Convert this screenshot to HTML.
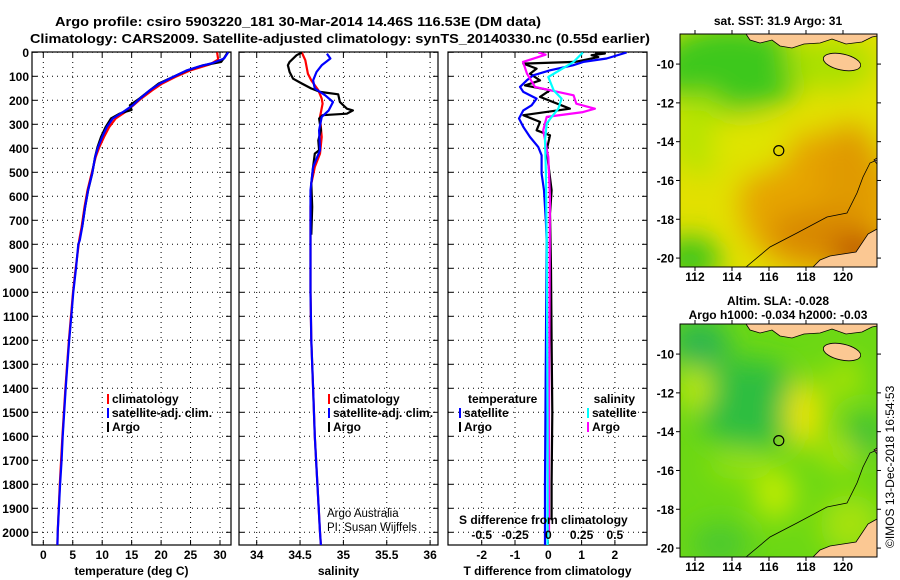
<!DOCTYPE html>
<html><head><meta charset="utf-8"><style>
html,body{margin:0;padding:0;background:#fff;}
svg{display:block;font-family:"Liberation Sans",Arial,sans-serif;}
.t{font-size:12.5px;font-weight:bold;fill:#000;}
.tk{font-size:12px;font-weight:bold;fill:#000;}
</style></head><body>
<svg id="chart" width="900" height="580" viewBox="0 0 900 580" xmlns="http://www.w3.org/2000/svg">
<defs>
<filter id="blur8" x="-50%" y="-50%" width="200%" height="200%"><feGaussianBlur stdDeviation="8"/></filter>
<filter id="blur14" x="-50%" y="-50%" width="200%" height="200%"><feGaussianBlur stdDeviation="14"/></filter>
<clipPath id="mapclip"><rect x="0" y="0" width="197" height="233"/></clipPath>
<clipPath id="c1"><rect x="32" y="52" width="199" height="493"/></clipPath>
<clipPath id="c2"><rect x="239" y="52" width="199" height="493"/></clipPath>
<clipPath id="c3"><rect x="448" y="52" width="199" height="493"/></clipPath>
</defs>
<text class="t" x="298" y="26" text-anchor="middle" textLength="486" lengthAdjust="spacingAndGlyphs">Argo profile: csiro 5903220_181 30-Mar-2014 14.46S 116.53E (DM data)</text>
<text class="t" x="340" y="43" text-anchor="middle" textLength="620" lengthAdjust="spacingAndGlyphs">Climatology: CARS2009. Satellite-adjusted climatology: synTS_20140330.nc (0.55d earlier)</text>
<g id="panels"></g>
<g id="maps"></g>
<text class="tk" transform="translate(894,548) rotate(-90)" style="font-weight:normal;font-size:12px">©IMOS 13-Dec-2018 16:54:53</text>
</svg>
<script>
// ---- depth ticks ----
const depthTicks = [0,100,200,300,400,500,600,700,800,900,1000,1100,1200,1300,1400,1500,1600,1700,1800,1900,2000];
// ---- temperature panel ----
const tempTicks = [0,5,10,15,20,25,30];
const tempDepthBlue = [0,26,44,58,75,103,130,158,193,221,249,276,311,353,395,436,505,575,645,728,783,800,900,1000,1100,1200,1300,1400,1500,1600,1700,1800,1900,2000,2054];
const tempBlue = [31.4,30.7,28.8,26.6,24.4,22.0,19.8,18.1,16.4,15.2,13.5,11.8,10.8,10.0,9.3,8.8,8.3,7.6,7.1,6.6,6.2,5.95,5.55,5.1,4.75,4.4,4.1,3.8,3.55,3.3,3.1,2.85,2.65,2.45,2.4];
const tempDepthRed = [0,30,50,75,103,130,158,193,221,249,276,311,353,395,436,505,575,645,728,783,900,1000,1200,1400,1600,1800,2000,2054];
const tempRed = [29.5,29.7,28.3,25.0,22.4,20.2,18.5,16.6,15.3,13.9,12.3,11.2,10.3,9.5,8.9,8.2,7.5,7.0,6.5,6.1,5.5,5.05,4.35,3.75,3.25,2.8,2.45,2.4];
const tempDepthBlack = [0,20,40,55,75,103,130,158,193,221,240,255,276,311,353,395,436,505,575,645,728];
const tempBlack = [31.3,30.8,30.2,27.0,24.5,22.0,19.6,18.1,16.3,14.7,15.0,13.0,11.5,10.6,9.8,9.2,8.8,8.3,7.6,7.1,6.6];
// ---- salinity panel ----
const salTicks = [34,34.5,35,35.5,36];
const salDepthRed = [1,33,89,117,158,193,214,269,353,422,478,547,644,800,1000,1200,1400,1600,1800,2000,2054];
const salRed = [34.52,34.56,34.59,34.63,34.71,34.75,34.76,34.73,34.75,34.73,34.67,34.63,34.62,34.62,34.62,34.63,34.65,34.67,34.70,34.73,34.74];
const salDepthBlack = [1,12,40,54,82,110,130,151,165,175,207,235,242,256,262,276,325,367,408,422,478,547,644,760];
const salBlack = [34.52,34.46,34.38,34.36,34.38,34.42,34.52,34.63,34.73,34.94,34.96,35.04,35.11,35.04,34.76,34.72,34.74,34.71,34.72,34.67,34.65,34.63,34.64,34.63];
const salDepthBlue = [6,26,54,82,117,151,179,207,242,269,325,408,478,575,769,1000,1200,1400,1600,1800,2000,2054];
const salBlue = [34.81,34.85,34.75,34.69,34.65,34.67,34.79,34.88,34.83,34.75,34.72,34.73,34.65,34.62,34.62,34.62,34.63,34.65,34.67,34.70,34.73,34.74];
// ---- difference panel ----
const tdiffTicks = [-2,-1,0,1,2];
const sdiffTicks = [-0.5,-0.25,0,0.25,0.5];
const tdDepthSat = [1,26,40,54,75,96,117,144,165,193,221,242,276,311,353,395,429,505,575,714,783,1000,1400,1800,2000,2054];
const tdSat = [2.35,1.75,1.05,0.74,0.05,-0.45,-0.65,-0.85,-0.75,-0.35,-0.5,-0.75,-0.88,-0.75,-0.55,-0.3,-0.2,-0.2,-0.13,-0.07,-0.05,-0.06,-0.08,-0.1,-0.1,-0.1];
const tdDepthArgo = [1,5,12,20,40,47,68,89,117,138,158,186,235,262,290,325,346,408,575,672,900,1200,1500,1800,1950];
const tdArgo = [1.4,1.7,1.3,1.5,0.8,-0.75,-0.35,-0.55,-0.25,-0.7,0.05,-0.25,0.65,-0.75,-0.25,-0.35,0.05,-0.05,0.1,0.05,0.08,0.1,0.12,0.1,0.1];
const sdDepthSat = [1,40,103,158,193,235,269,297,367,500,783,1200,1600,2000,2054];
const sdSat = [0.26,0.19,0,0.04,0.1,0.075,0.025,-0.012,-0.025,-0.018,-0.012,-0.008,-0.005,-0.005,-0.005];
const sdDepthArgo = [1,10,40,89,144,158,179,214,235,249,269,325,436,600,1000,1500,2000];
const sdArgo = [-0.075,-0.02,-0.19,-0.16,-0.1,0.012,0.19,0.21,0.35,0.26,-0.012,-0.038,0,0.012,0.01,0.005,0.005];

const NS='http://www.w3.org/2000/svg';
function mk(tag, attrs, parent){const e=document.createElementNS(NS,tag);for(const k in attrs)e.setAttribute(k,attrs[k]);parent.appendChild(e);return e;}
const Y0=52.3, PPD=0.24, BOTTOM=545;
function yD(d){return Y0+d*PPD;}
const panels=document.getElementById('panels');

function xT(v){return 43.3+5.89*v;}
function xS(v){return 256.7+86.7*(v-34);}
function xTD(v){return 548.3+33.3*v;}
function xSD(v){return 548.3+133.2*v;}

function panelFrame(name,left,right,xfun,ticks,labels,xlabel,yLabels){
  const g=mk('g',{},panels);
  
  
  ticks.forEach(v=>{const x=xfun(v);
    const l=mk('line',{x1:x,x2:x,y1:52,y2:BOTTOM,stroke:'#000','stroke-width':1,'stroke-dasharray':'1 4'},g);
    
    
    mk('line',{x1:x,x2:x,y1:BOTTOM,y2:BOTTOM-5,stroke:'#000'},g);
    mk('line',{x1:x,x2:x,y1:52,y2:57,stroke:'#000'},g);
    const t=mk('text',{x:x,y:559,'text-anchor':'middle',class:'tk'},g);t.textContent=labels(v);
    
    
  });
  depthTicks.forEach(d=>{const y=yD(d);
    const l=mk('line',{x1:left,x2:right,y1:y,y2:y,stroke:'#000','stroke-width':1,'stroke-dasharray':'1 4'},g);
    
    
    mk('line',{x1:left,x2:left+5,y1:y,y2:y,stroke:'#000'},g);
    mk('line',{x1:right,x2:right-5,y1:y,y2:y,stroke:'#000'},g);
    if(yLabels){const t=mk('text',{x:29,y:y+4.5,'text-anchor':'end',class:'tk'},g);t.textContent=d;
      
      }
  });
  const r=mk('rect',{x:left,y:52,width:right-left,height:BOTTOM-52,fill:'none',stroke:'#000','stroke-width':1.2},g);
  
  
  const xl=mk('text',{x:(left+right)/2,y:575,'text-anchor':'middle',class:'tk'},g);xl.textContent=xlabel;
  
  
  return g;
}
function line(g,clip,xfun,vals,depths,color,name){
  const pts=vals.map((v,i)=>xfun(v).toFixed(1)+','+yD(depths[i]).toFixed(1)).join(' ');
  const p=mk('polyline',{points:pts,fill:'none',stroke:color,'stroke-width':2.2,'stroke-linejoin':'round','clip-path':'url(#'+clip+')'},g);
  
  
}
function legend(g,x,y,color,text,name){
  mk('line',{x1:x,x2:x,y1:y-9,y2:y+1,stroke:color,'stroke-width':2},g);
  const t=mk('text',{x:x+4,y:y,class:'tk','font-weight':'normal'},g);t.textContent=text;
  
  
}
const fmt=v=>String(v);
const g1=panelFrame('temperature-panel',32,231,xT,tempTicks,fmt,'temperature (deg C)',true);
line(g1,'c1',xT,tempRed,tempDepthRed,'#ff0000','temp-climatology-line');
line(g1,'c1',xT,tempBlack,tempDepthBlack,'#000000','temp-argo-line');
line(g1,'c1',xT,tempBlue,tempDepthBlue,'#0000ff','temp-satellite-line');
legend(g1,108,403,'#f00','climatology','legend-climatology');
legend(g1,108,417,'#00f','satellite-adj. clim.','legend-satellite');
legend(g1,108,431,'#000','Argo','legend-argo');
const g2=panelFrame('salinity-panel',239,438,xS,salTicks,fmt,'salinity',false);
line(g2,'c2',xS,salRed,salDepthRed,'#ff0000','sal-climatology-line');
line(g2,'c2',xS,salBlack,salDepthBlack,'#000000','sal-argo-line');
line(g2,'c2',xS,salBlue,salDepthBlue,'#0000ff','sal-satellite-line');
legend(g2,329,403,'#f00','climatology','legend-sal-climatology');
legend(g2,329,417,'#00f','satellite-adj. clim.','legend-sal-satellite');
legend(g2,329,431,'#000','Argo','legend-sal-argo');
[['Argo Australia',517],['PI: Susan Wijffels',531]].forEach(([s,y])=>{const t=mk('text',{x:327,y:y,'font-size':'11.5px'},g2);t.textContent=s;
  
  });
const g3=panelFrame('difference-panel',448,647,xTD,tdiffTicks,fmt,'T difference from climatology',false);
line(g3,'c3',xTD,tdArgo,tdDepthArgo,'#000000','tdiff-argo-line');
line(g3,'c3',xTD,tdSat,tdDepthSat,'#0000ff','tdiff-satellite-line');
line(g3,'c3',xSD,sdArgo,sdDepthArgo,'#ff00ff','sdiff-argo-line');
line(g3,'c3',xSD,sdSat,sdDepthSat,'#00ffff','sdiff-satellite-line');
{const t=mk('text',{x:468,y:403,class:'tk','font-weight':'normal'},g3);t.textContent='temperature';
 
 
 const t2=mk('text',{x:635,y:403,class:'tk','font-weight':'normal','text-anchor':'end'},g3);t2.textContent='salinity';
 
 }
legend(g3,460,417,'#00f','satellite','legend-tdiff-satellite');
legend(g3,460,431,'#000','Argo','legend-tdiff-argo');
legend(g3,588,417,'#0ff','satellite','legend-sdiff-satellite');
legend(g3,588,431,'#f0f','Argo','legend-sdiff-argo');
{const t=mk('text',{x:459,y:524,class:'tk','font-weight':'normal'},g3);t.textContent='S difference from climatology';
 
 
 sdiffTicks.forEach(v=>{const s=mk('text',{x:xSD(v),y:539,'text-anchor':'middle',class:'tk','font-weight':'normal'},g3);s.textContent=String(v);
  
  });}

// ---- maps ----
const lonTicks=[112,114,116,118,120];
const latTicks=[-10,-12,-14,-16,-18,-20];
const argoLon=116.53, argoLat=-14.46;
const LON0=111.19, LAT0=-8.45, PX_LON=18.5, PX_LAT=19.4;
function mx(lon){return (lon-LON0)*PX_LON;}
function my(lat){return (LAT0-lat)*PX_LAT;}
const maps=document.getElementById('maps');
function drawMap(oy,kind,title1,title2){
  const g=mk('g',{transform:'translate(680,'+oy+')'},maps);
  
  
  const f=mk('g',{'clip-path':'url(#mapclip)'},g);
  if(kind==='sst'){
    mk('rect',{x:0,y:0,width:197,height:233,fill:'#e2e000'},f);
    const b=mk('g',{filter:'url(#blur14)'},f);
    mk('ellipse',{cx:50,cy:35,rx:75,ry:45,fill:'#3cc81e'},b);
    mk('ellipse',{cx:150,cy:30,rx:45,ry:25,fill:'#a8e000'},b);
    mk('ellipse',{cx:20,cy:100,rx:30,ry:40,fill:'#b6e400'},b);
    mk('ellipse',{cx:140,cy:170,rx:80,ry:70,fill:'#e6a400'},b);
    mk('ellipse',{cx:170,cy:140,rx:30,ry:50,fill:'#e09a00'},b);
    mk('ellipse',{cx:140,cy:200,rx:50,ry:25,fill:'#d88800'},b);
    mk('ellipse',{cx:180,cy:220,rx:30,ry:20,fill:'#bf5a00'},b);
    mk('ellipse',{cx:10,cy:225,rx:30,ry:22,fill:'#34c41c'},b);
    mk('ellipse',{cx:70,cy:110,rx:40,ry:30,fill:'#dfe400'},b);
  } else {
    mk('rect',{x:0,y:0,width:197,height:233,fill:'#6cd814'},f);
    const b=mk('g',{filter:'url(#blur14)'},f);
    mk('ellipse',{cx:70,cy:80,rx:55,ry:45,fill:'#2fbe40'},b);
    mk('ellipse',{cx:20,cy:20,rx:30,ry:25,fill:'#2cb650'},b);
    mk('ellipse',{cx:125,cy:90,rx:20,ry:35,fill:'#e8e400'},b);
    mk('ellipse',{cx:15,cy:65,rx:18,ry:22,fill:'#c0e800'},b);
    mk('ellipse',{cx:165,cy:55,rx:15,ry:20,fill:'#b0e400'},b);
    mk('ellipse',{cx:185,cy:110,rx:15,ry:20,fill:'#28b844'},b);
    mk('ellipse',{cx:95,cy:170,rx:20,ry:25,fill:'#c4ec00'},b);
    mk('ellipse',{cx:60,cy:140,rx:30,ry:15,fill:'#9ae20a'},b);
    mk('ellipse',{cx:160,cy:130,rx:18,ry:15,fill:'#b8e600'},b);
    mk('ellipse',{cx:40,cy:220,rx:30,ry:20,fill:'#48c830'},b);
    mk('ellipse',{cx:170,cy:200,rx:30,ry:30,fill:'#a6e208'},b);
  }
  const land=mk('g',{fill:'#fbc893',stroke:'#000','stroke-width':0.8},f);
  
  
  mk('path',{d:'M66,0 L70,6 L80,9 L92,6 L100,12 L112,14 L124,10 L140,9 L152,5 L166,10 L182,8 L192,3 L197,2 L197,0 Z'},land);
  mk('ellipse',{cx:162,cy:28,rx:19,ry:8,transform:'rotate(12 162 28)'},land);
  mk('path',{d:'M133,233 L140,226 L150,222 L176,218 L188,200 L197,195 L197,233 Z'},land);
  mk('path',{d:'M194,126 L197,124 L197,130 Z'},land);
  mk('polyline',{points:'66,233 90,213 117,199 147,183 167,179 177,159 183,143 190,129 197,126',fill:'none',stroke:'#000','stroke-width':0.8},f);
  const c=mk('circle',{cx:mx(argoLon),cy:my(argoLat),r:5,fill:'none',stroke:'#000','stroke-width':1.2},g);
  
  
  mk('rect',{x:0,y:0,width:197,height:233,fill:'none',stroke:'#000','stroke-width':1},g);
  lonTicks.forEach(l=>{const x=mx(l);
    mk('line',{x1:x,x2:x,y1:233,y2:237,stroke:'#000'},g);mk('line',{x1:x,x2:x,y1:0,y2:-4,stroke:'#000'},g);
    const t=mk('text',{x:x,y:247,'text-anchor':'middle',class:'tk','font-weight':'normal'},g);t.textContent=l;
    
    });
  latTicks.forEach(l=>{const y=my(l);
    mk('line',{x1:197,x2:201,y1:y,y2:y,stroke:'#000'},g);mk('line',{x1:0,x2:-4,y1:y,y2:y,stroke:'#000'},g);
    const t=mk('text',{x:-6,y:y+4.5,'text-anchor':'end',class:'tk','font-weight':'normal'},g);t.textContent=l;
    
    });
  const t1=mk('text',{x:98,y:title2?-19:-9,'text-anchor':'middle',class:'tk'},g);t1.textContent=title1;
  
  
  if(title2){const t2=mk('text',{x:98,y:-5,'text-anchor':'middle',class:'tk'},g);t2.textContent=title2;
    
    }
}
drawMap(34,'sst','sat. SST: 31.9 Argo: 31',null);
drawMap(324,'sla','Altim. SLA: -0.028','Argo h1000: -0.034 h2000: -0.03');
</script>
</body></html>
